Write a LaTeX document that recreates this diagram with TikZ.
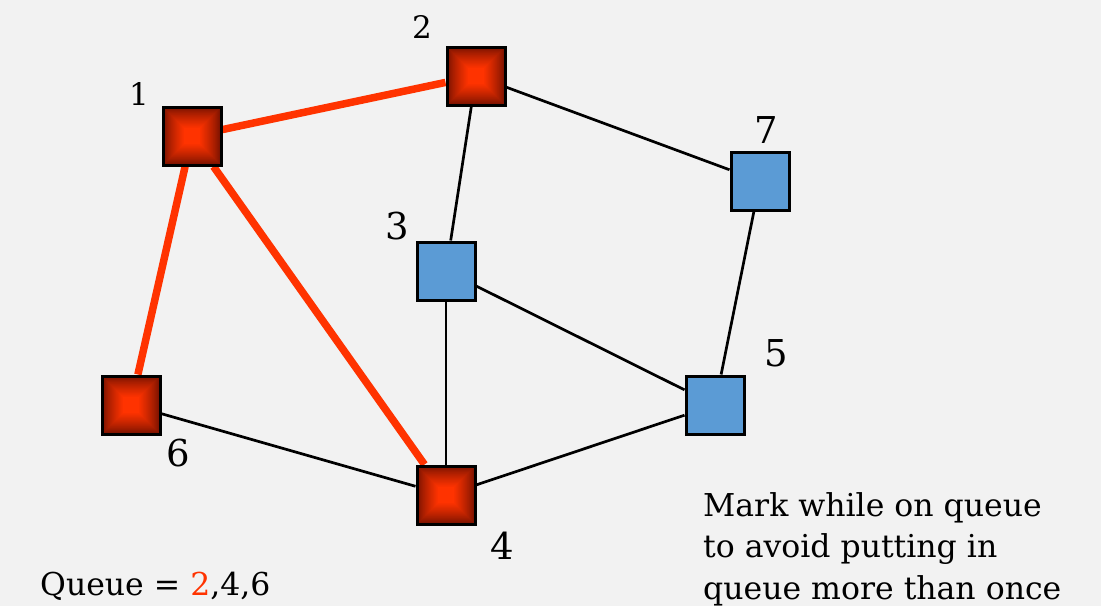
\documentclass[tikz,border=0pt]{standalone}
\usepackage{fontspec}
\setmainfont{DejaVu Serif}
\definecolor{bgc}{HTML}{F2F2F2}
\definecolor{hot}{HTML}{FF3300}
\definecolor{hotdark}{HTML}{6A0E00}
\definecolor{bluef}{HTML}{5B9BD5}
\definecolor{edgered}{HTML}{FF3300}
\begin{document}
\begin{tikzpicture}[x=1pt,y=-1pt,
  vbox/.style={draw=black,line width=3pt,minimum size=58pt,inner sep=0pt},
  redbox/.style={vbox,path picture={
      \coordinate (pc) at (path picture bounding box.center);
      \foreach \k in {0,...,27}{
        \pgfmathsetmacro{\s}{30-\k}
        \pgfmathtruncatemacro{\p}{min(100,100*(\k/22)^0.75)}
        \fill[hot!\p!hotdark] ([shift={(-\s,-\s)}]pc) rectangle ([shift={(\s,\s)}]pc);
      }}},
  bluebox/.style={vbox,fill=bluef},
  thin/.style={draw=black,line width=2.7pt},
  thick/.style={draw=edgered,line width=7.5pt},
  biglab/.style={font=\fontsize{37}{40}\selectfont,inner sep=0pt},
  smalllab/.style={font=\fontsize{31}{34}\selectfont,inner sep=0pt},
  txt/.style={font=\fontsize{31.5}{41.5}\selectfont,inner sep=0pt}]
\fill[bgc] (0,0) rectangle (1101,606);
\useasboundingbox (0,0) rectangle (1101,606);
\node[redbox] (n1) at (192,136) {};
\node[redbox] (n2) at (476,76) {};
\node[bluebox] (n3) at (446,271) {};
\node[redbox] (n4) at (446,495) {};
\node[bluebox] (n5) at (715,405) {};
\node[redbox] (n6) at (131,405) {};
\node[bluebox] (n7) at (760,181) {};
\draw[thin] (n2) -- (n3);
\draw[thin] (n2) -- (n7);
\draw[thin] (n7) -- (n5);
\draw[thin] (n3) -- (n4);
\draw[thin] (n3) -- (n5);
\draw[thin] (n6) -- (n4);
\draw[thin] (n4) -- (n5);
\draw[thick] (n1) -- (n2);
\draw[thick] (n1) -- (n6);
\draw[thick] (n1) -- (n4);
% redraw boxes on top of the thick edges
\node[redbox] at (n1) {};
\node[redbox] at (n2) {};
\node[redbox] at (n4) {};
\node[redbox] at (n6) {};
\node[smalllab] (l1) at (139,94) {1};
\node[smalllab] (l2) at (422,27) {2};
\node[biglab] (l3) at (397,226) {3};
\node[biglab] (l4) at (502,546) {4};
\node[biglab] (l5) at (776,353) {5};
\node[biglab] (l6) at (178,453) {6};
\node[biglab] (l7) at (766,130) {7};
\node[txt,anchor=base west] (q) at (40,595) {Queue = \textcolor{edgered}{2},4,6};
\node[txt,anchor=north west,align=left] (m) at (703,492) {Mark while on queue\\to avoid putting in\\queue more than once};
\end{tikzpicture}
\end{document}
